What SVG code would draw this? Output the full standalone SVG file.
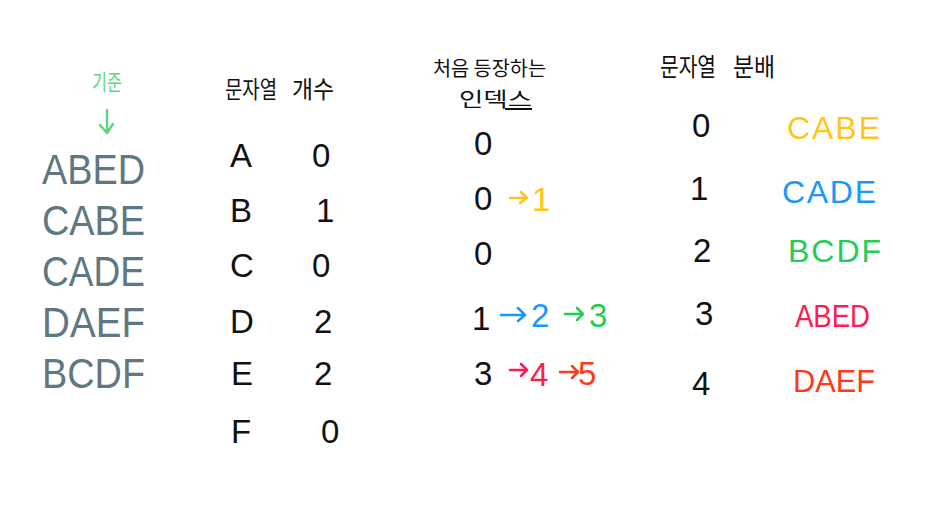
<svg xmlns="http://www.w3.org/2000/svg" width="942" height="511" viewBox="0 0 942 511">
<style>
.big{font-family:"Liberation Sans","Noto Sans",sans-serif;font-size:43px;fill:#5f7780}
.hw{font-family:"Liberation Sans","Noto Sans",sans-serif;fill:#111}
.ko{font-family:"Noto Sans CJK KR","Noto Sans",sans-serif;fill:#111}
.arr{fill:none;stroke-width:2.5;stroke-linecap:round;stroke-linejoin:round}
</style>
<rect width="942" height="511" fill="#fff"/>
<g id="base">
<text x="92" y="90" class="ko" style="fill:#66d47e;font-size:22px" textLength="30" lengthAdjust="spacingAndGlyphs">기준</text>
<path class="arr" d="M107,110 V133 M100,125 L107,133 L113,124" stroke="#66d47e"/>
<text class="big" x="42" y="184" textLength="103" lengthAdjust="spacingAndGlyphs">ABED</text>
<text class="big" x="42" y="235" textLength="103" lengthAdjust="spacingAndGlyphs">CABE</text>
<text class="big" x="42" y="286" textLength="103" lengthAdjust="spacingAndGlyphs">CADE</text>
<text class="big" x="42" y="337" textLength="103" lengthAdjust="spacingAndGlyphs">DAEF</text>
<text class="big" x="42" y="388" textLength="103" lengthAdjust="spacingAndGlyphs">BCDF</text>
</g>
<g id="count">
<text x="225" y="98" class="ko" style="font-size:24px" textLength="52" lengthAdjust="spacingAndGlyphs">문자열</text>
<text x="292" y="98" class="ko" style="font-size:24px" textLength="42" lengthAdjust="spacingAndGlyphs">개수</text>
<g class="hw" style="font-size:33px">
<text x="230" y="167">A</text><text x="312" y="167">0</text>
<text x="230" y="222">B</text><text x="316" y="222">1</text>
<text x="230" y="277">C</text><text x="312" y="277">0</text>
<text x="230" y="333">D</text><text x="314" y="333">2</text>
<text x="231" y="385">E</text><text x="314" y="385">2</text>
<text x="231" y="443">F</text><text x="321" y="443">0</text>
</g>
</g>
<g id="first">
<text x="433" y="76" class="ko" style="font-size:20px" textLength="113" lengthAdjust="spacingAndGlyphs">처음 등장하는</text>
<text x="459" y="107" class="ko" style="font-size:20px" textLength="73" lengthAdjust="spacingAndGlyphs">인덱스</text>
<path d="M505,109 H532" stroke="#111" stroke-width="2"/>
<g class="hw" style="font-size:33px">
<text x="474" y="155">0</text>
<text x="474" y="210">0</text>
<text x="474" y="265">0</text>
<text x="472" y="330">1</text>
<text x="474" y="385">3</text>
</g>
<path class="arr" stroke="#ffc61a" d="M510,198 H527 M521,192 L527,198 L520,203"/>
<text x="532" y="211" class="hw" style="font-size:33px;fill:#ffc61a">1</text>
<path class="arr" stroke="#1a96ff" d="M501,315 H525 M518,308 L525,315 L518,321"/>
<text x="531" y="327" class="hw" style="font-size:33px;fill:#1a96ff">2</text>
<path class="arr" stroke="#22cc55" d="M565,314 H583 M577,308 L583,314 L577,320"/>
<text x="589" y="327" class="hw" style="font-size:33px;fill:#22cc55">3</text>
<path class="arr" stroke="#ff1a50" d="M510,370 H527 M521,364 L527,370 L521,376"/>
<text x="530" y="386" class="hw" style="font-size:33px;fill:#ff1a50">4</text>
<path class="arr" stroke="#ff3a1a" d="M560,372 H578 M572,366 L578,372 L572,378"/>
<text x="578" y="385" class="hw" style="font-size:33px;fill:#ff3a1a">5</text>
</g>
<g id="dist">
<text x="660" y="76" class="ko" style="font-size:25px" textLength="56" lengthAdjust="spacingAndGlyphs">문자열</text>
<text x="733" y="76" class="ko" style="font-size:25px" textLength="42" lengthAdjust="spacingAndGlyphs">분배</text>
<g class="hw" style="font-size:33px">
<text x="692" y="137">0</text>
<text x="690" y="200">1</text>
<text x="693" y="262">2</text>
<text x="695" y="325">3</text>
<text x="692" y="395">4</text>
</g>
<g class="hw" style="font-size:32px">
<text x="787" y="139" textLength="93" style="fill:#ffc61a">CABE</text>
<text x="782" y="203" textLength="94" style="fill:#1a96ff">CADE</text>
<text x="788" y="262" textLength="93" style="fill:#22cc55">BCDF</text>
<text x="795" y="327" textLength="75" lengthAdjust="spacingAndGlyphs" style="fill:#ff1a50">ABED</text>
<text x="793" y="392" textLength="82" lengthAdjust="spacingAndGlyphs" style="fill:#ff3a1a">DAEF</text>
</g>
</g>
</svg>
